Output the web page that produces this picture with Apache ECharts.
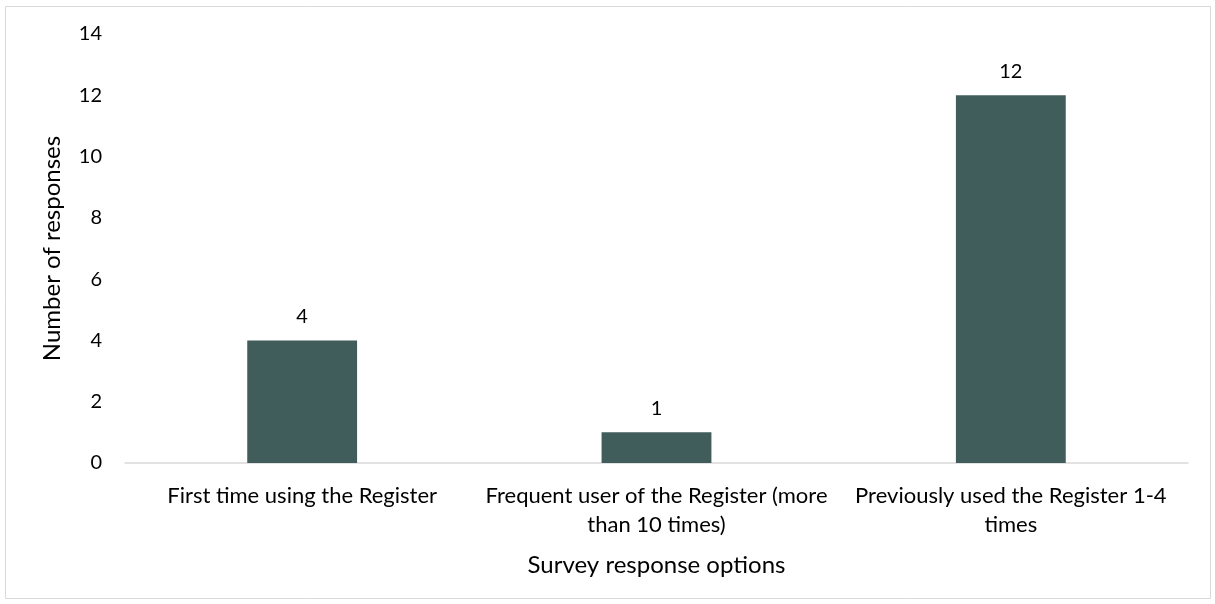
<!DOCTYPE html>
<html>
<head>
<meta charset="utf-8">
<script src="https://cdn.jsdelivr.net/npm/echarts@6/dist/echarts.min.js"></script>
<style>
  html, body { margin: 0; padding: 0; background: #fff; }
  #main { width: 1215px; height: 604px; }
</style>
</head>
<body>
<div id="main"></div>
<script>
// 数据
var categories = [
  "First time using the Register",
  "Frequent user of the Register (more\nthan 10 times)",
  "Previously used the Register 1-4\ntimes"
];
var responses = [4, 1, 12];

var fontFamily = "Lato";
var textColor = "#000";

var myChart = echarts.init(document.getElementById("main"), null, { renderer: "canvas" });

var option = {
  animation: false,
  textStyle: { fontFamily: fontFamily },
  graphic: [
    {
      type: "rect",
      shape: { x: 5.5, y: 6.5, width: 1205, height: 592 },
      style: { fill: "none", stroke: "#d9d9d9", lineWidth: 1 },
      silent: true
    }
  ],
  grid: { left: 125, right: 27, top: 34, bottom: 141 },
  xAxis: {
    type: "category",
    data: categories,
    name: "Survey response options",
    nameLocation: "middle",
    nameGap: 90,
    nameTextStyle: { fontSize: 24, color: textColor, fontFamily: fontFamily },
    axisLine: { lineStyle: { color: "#d9d9d9", width: 1.5 } },
    axisTick: { show: false },
    axisLabel: {
      fontSize: 22,
      color: textColor,
      margin: 18,
      lineHeight: 29,
      interval: 0
    }
  },
  yAxis: {
    type: "value",
    min: 0,
    max: 14,
    interval: 2,
    name: "Number of responses",
    nameLocation: "middle",
    nameGap: 61,
    nameTextStyle: { fontSize: 24, color: textColor, fontFamily: fontFamily },
    splitLine: { show: false },
    axisLine: { show: false },
    axisTick: { show: false },
    axisLabel: { fontSize: 20, color: textColor, margin: 23 }
  },
  series: [
    {
      type: "bar",
      data: responses,
      barWidth: "31%",
      itemStyle: { color: "#405c5b" },
      label: {
        show: true,
        position: "top",
        distance: 14,
        fontSize: 20,
        color: textColor,
        fontFamily: fontFamily
      }
    }
  ]
};

myChart.setOption(option);
</script>
</body>
</html>
